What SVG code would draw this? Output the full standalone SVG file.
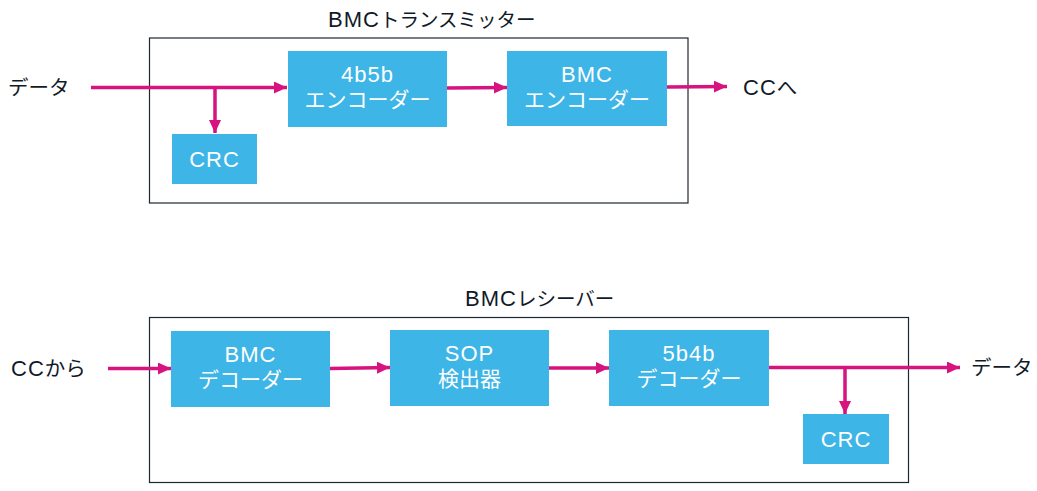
<svg xmlns="http://www.w3.org/2000/svg" width="1037" height="491" viewBox="0 0 1037 491">
<style>
.frame{fill:#fff;stroke:#1b2733;stroke-width:1.2}
.blk{fill:#3db5e6}
.bt{fill:#fff;font-family:"Liberation Sans","Noto Sans CJK JP",sans-serif;font-size:21px;text-anchor:middle}
.lbl{fill:#111a28;font-family:"Liberation Sans","Noto Sans CJK JP",sans-serif;font-size:20.5px}
.ttl{fill:#111a28;font-family:"Liberation Sans","Noto Sans CJK JP",sans-serif;font-size:19.5px}
.lat{font-size:22px;letter-spacing:1px}
.wire{stroke:#d6137f;stroke-width:3.5;fill:none}
</style>
<defs>
<marker id="ah" markerUnits="userSpaceOnUse" markerWidth="13" markerHeight="12" refX="13" refY="6" orient="auto">
<path d="M0,0 L13,6 L0,12 Z" fill="#d6137f"/>
</marker>
</defs>
<rect class="frame" x="149.5" y="38" width="538.5" height="165"/>
<rect class="frame" x="149.5" y="317.5" width="759" height="165"/>
<text class="ttl" x="328" y="27"><tspan class="lat">BMC</tspan>トランスミッター</text>
<text class="ttl" x="465" y="306"><tspan class="lat">BMC</tspan>レシーバー</text>
<g id="tx-in"><text class="lbl" x="8" y="95">データ</text></g>
<g id="tx-out"><text class="lbl" x="743" y="95"><tspan class="lat">CC</tspan>へ</text></g>
<g id="enc4b5b"><rect class="blk" x="288" y="51" width="159" height="76"/><text class="bt lat" x="367.5" y="82">4b5b</text><text class="bt" x="367.5" y="107">エンコーダー</text></g>
<g id="bmcenc"><rect class="blk" x="507" y="51" width="160" height="75"/><text class="bt lat" x="587" y="82">BMC</text><text class="bt" x="587" y="107">エンコーダー</text></g>
<g id="crc1"><rect class="blk" x="172" y="134" width="85" height="50"/><text class="bt lat" x="214.5" y="167">CRC</text></g>
<g id="rx-in"><text class="lbl" x="11" y="376"><tspan class="lat">CC</tspan>から</text></g>
<g id="rx-out"><text class="lbl" x="971" y="375">データ</text></g>
<g id="bmcdec"><rect class="blk" x="171" y="331" width="159" height="76"/><text class="bt lat" x="250.5" y="362">BMC</text><text class="bt" x="250.5" y="387">デコーダー</text></g>
<g id="sop"><rect class="blk" x="390" y="330" width="159" height="76"/><text class="bt lat" x="469.5" y="361">SOP</text><text class="bt" x="469.5" y="386">検出器</text></g>
<g id="dec5b4b"><rect class="blk" x="609" y="330" width="160" height="76"/><text class="bt lat" x="689" y="361">5b4b</text><text class="bt" x="689" y="386">デコーダー</text></g>
<g id="crc2"><rect class="blk" x="803" y="414" width="86" height="50"/><text class="bt lat" x="846" y="447">CRC</text></g>
<g id="connectors">
<line class="wire" x1="91" y1="87.5" x2="287" y2="87.5" marker-end="url(#ah)"/>
<line class="wire" x1="215" y1="87.5" x2="215" y2="133" marker-end="url(#ah)"/>
<line class="wire" x1="447" y1="88" x2="507" y2="87.5" marker-end="url(#ah)"/>
<line class="wire" x1="667" y1="87" x2="727" y2="86.5" marker-end="url(#ah)"/>
<line class="wire" x1="108" y1="368.5" x2="171" y2="368.5" marker-end="url(#ah)"/>
<line class="wire" x1="330" y1="368.5" x2="390" y2="367.5" marker-end="url(#ah)"/>
<line class="wire" x1="549" y1="368" x2="609" y2="368" marker-end="url(#ah)"/>
<line class="wire" x1="769" y1="367.5" x2="960" y2="367.5" marker-end="url(#ah)"/>
<line class="wire" x1="845" y1="367.5" x2="845" y2="414" marker-end="url(#ah)"/>
</g>
</svg>
